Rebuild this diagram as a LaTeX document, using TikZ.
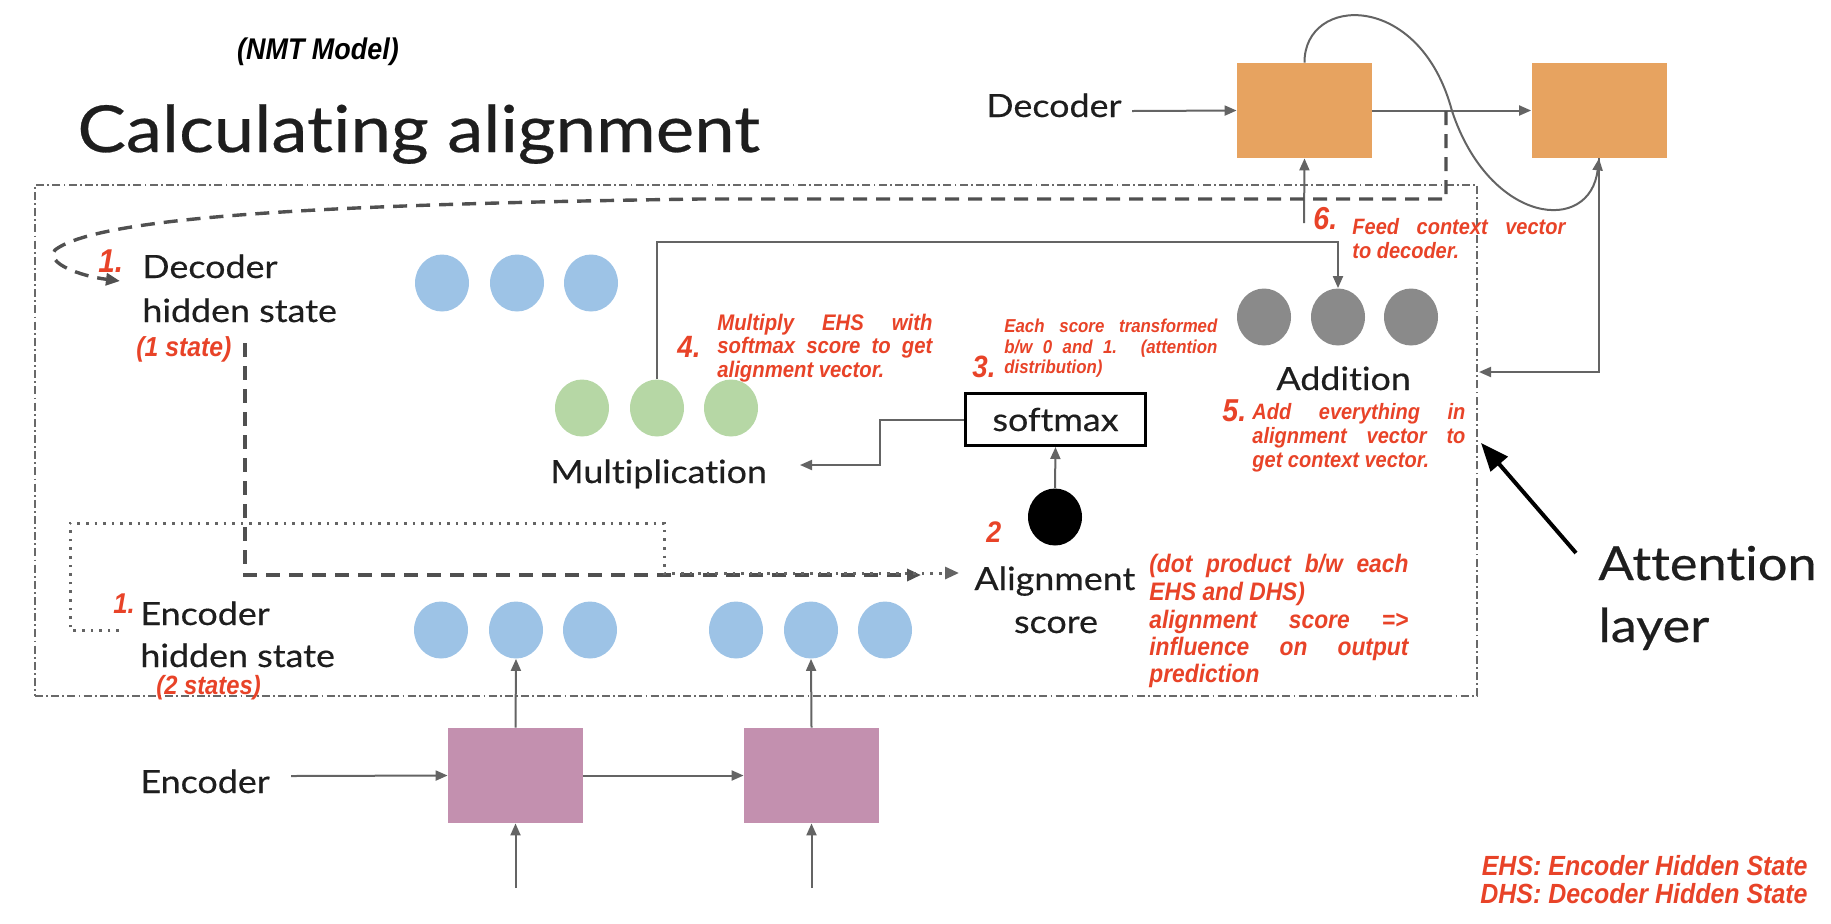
\documentclass[tikz,border=0pt]{standalone}
\usepackage{fontspec}
\setmainfont{Lato}[FakeStretch=1.12, FakeBold=0.4, Ligatures=NoCommon]
\newfontfamily\arialf{Liberation Sans}[FakeStretch=0.9]
\usetikzlibrary{arrows.meta,shapes.geometric}
\definecolor{redann}{RGB}{232,67,40}
\definecolor{txt}{RGB}{30,30,30}
\definecolor{lgray}{RGB}{100,100,100}
\definecolor{dgray}{RGB}{80,80,80}
\definecolor{boxgray}{RGB}{105,105,105}
\definecolor{dorange}{RGB}{231,163,96}
\definecolor{epink}{RGB}{195,144,175}
\definecolor{hblue}{RGB}{157,195,230}
\definecolor{mgreen}{RGB}{182,215,165}
\definecolor{agray}{RGB}{138,138,138}
\newcommand{\anf}[1]{\arialf\bfseries\itshape\fontsize{\fpeval{#1*1.1}}{\fpeval{#1*1.2}}\selectfont}
\tikzset{
  lbl/.style={anchor=base west, inner sep=0pt, text=txt, font=\fontsize{16}{19}\selectfont},
  ann/.style={anchor=base west, inner sep=0pt, text=redann},
  blob/.style={ellipse, minimum width=27pt, minimum height=28.5pt, inner sep=0pt},
  hcirc/.style={blob, fill=hblue},
  mcirc/.style={blob, fill=mgreen},
  acirc/.style={blob, fill=agray},
  scirc/.style={blob, fill=black},
  obox/.style={fill=dorange, minimum width=67.5pt, minimum height=47.5pt, inner sep=0pt},
  pbox/.style={fill=epink, minimum width=67.5pt, minimum height=47.5pt, inner sep=0pt},
  smbox/.style={draw=black, line width=1.5pt, minimum width=90pt, minimum height=26pt, inner sep=0pt, text=txt, font=\fontsize{16}{19}\selectfont},
  conn/.style={draw=lgray, line width=1pt, -{Triangle[length=6pt,width=5pt]}},
  dashline/.style={draw=dgray, line width=1.7pt, dash pattern=on 7pt off 4.5pt, -{Triangle[length=7pt,width=6pt]}},
  dotline/.style={draw=lgray, line width=1.5pt, dash pattern=on 1.3pt off 3pt, -{Triangle[length=7pt,width=6pt]}},
  attframe/.style={draw=boxgray, line width=0.9pt, dash pattern=on 4pt off 1.6pt on 0.9pt off 1.6pt},
  bigarrow/.style={draw=black, line width=2pt, -{Triangle[length=14pt,width=11pt]}}
}
\begin{document}
\begin{tikzpicture}[x=0.5pt,y=-0.5pt]
\useasboundingbox (0,0) rectangle (1831,923);
% attention frame
\node[attframe, minimum width=721pt, minimum height=255.5pt, inner sep=0pt] (att) at (756,440.5) {};

% titles
\node[anchor=base, inner sep=0pt, font=\anf{13.6}] (nmt) at (318,59) {(NMT Model)};
\node[anchor=base west, inner sep=0pt, text=txt, font=\fontsize{32.4}{36}\selectfont] (title) at (77,152) {Calculating alignment};

% decoder
\node[lbl] (dec) at (986,117) {Decoder};
\node[obox] (d1) at (1304.5,110.5) {};
\node[obox] (d2) at (1599,110.5) {};
\coordinate (decin) at (1132,111);
\coordinate (dsplit) at (1446,111);
\coordinate (ctxin) at (1304,223);
\coordinate (attR) at (1479,372);
\draw[conn] (decin) -- (d1.west);
\draw[conn] (d1.east) -- (d2.west);
\draw[conn] (d1.north) .. controls (1304,-5) and (1420,-10) .. (1452,111) .. controls (1490,225) and (1590,235) .. (d2.south);
\draw[conn] (d2.south) |- (attR);
\draw[conn] (ctxin) -- (d1.south);

% decoder hidden state
\node[ann, font=\anf{15}] (n1a) at (98,272) {1.};
\node[lbl] (dhsA) at (142,278) {Decoder};
\node[lbl] (dhsB) at (142,322) {hidden state};
\node[ann, font=\anf{12.5}] (onest) at (136,356) {(1 state)};
\node[hcirc] (dh1) at (442,283) {};
\node[hcirc] (dh2) at (517,283) {};
\node[hcirc] (dh3) at (591,283) {};
\coordinate (dtip) at (120,281);
\draw[dashline] (dsplit) -- (1446,199) -- (700,199) .. controls (350,204) and (100,215) .. (55,250) .. controls (45,263) and (80,276) .. (dtip);

% multiplication
\node[mcirc] (m1) at (582,408) {};
\node[mcirc] (m2) at (657,408) {};
\node[mcirc] (m3) at (731,408) {};
\node[lbl] (mul) at (550,483) {Multiplication};
\node[ann, font=\anf{14}] (n4) at (677,357) {4.};
\node[ann, font=\anf{10.25}] (t4a) at (717,330) {\makebox[107.5pt][s]{Multiply EHS with}};
\node[ann, font=\anf{10.25}] (t4b) at (717,353) {\makebox[107.5pt][s]{softmax score to get}};
\node[ann, font=\anf{10.25}] (t4c) at (717,377) {alignment vector.};

% softmax
\node[smbox] (sm) at (1055.5,419.5) {softmax};
\node[ann, font=\anf{14}] (n3) at (972,377) {3.};
\node[ann, font=\anf{8.5}] (t3a) at (1004,332) {\makebox[106.5pt][s]{Each score transformed}};
\node[ann, font=\anf{8.5}] (t3b) at (1004,353) {\makebox[106.5pt][s]{b/w 0 and 1. (attention}};
\node[ann, font=\anf{8.5}] (t3c) at (1004,373) {distribution)};
\coordinate (smBend) at (880,465);
\coordinate (mulIn) at (800,465);
\draw[conn] (sm.west) -| (smBend) -- (mulIn);

% score
\node[scirc] (sc) at (1055,517) {};
\draw[conn] (sc.north) -- (sm.south);
\node[ann, font=\anf{13.5}] (n2) at (986,542) {2};
\node[lbl] (alA) at (974,590) {Alignment};
\node[lbl, anchor=base] (alB) at (1056,633) {score};
\node[ann, font=\anf{11.5}] (t2a) at (1149,572) {\makebox[129.5pt][s]{(dot product b/w each}};
\node[ann, font=\anf{11.5}] (t2b) at (1149,600) {EHS and DHS)};
\node[ann, font=\anf{11.5}] (t2c) at (1149,628) {\makebox[129.5pt][s]{alignment score =>}};
\node[ann, font=\anf{11.5}] (t2d) at (1149,655) {\makebox[129.5pt][s]{influence on output}};
\node[ann, font=\anf{11.5}] (t2e) at (1149,682) {prediction};

% addition
\node[acirc] (a1) at (1264,317) {};
\node[acirc] (a2) at (1338,317) {};
\node[acirc] (a3) at (1411,317) {};
\node[lbl] (add) at (1276,390) {Addition};
\coordinate (mulTop) at (657,242);
\coordinate (addTop) at (1338,242);
\draw[conn] (m2.north) -- (mulTop) -- (addTop) -- (a2.north);
\node[ann, font=\anf{14.4}] (n5) at (1222,421) {5.};
\node[ann, font=\anf{10.1}] (t5a) at (1252,419) {\makebox[106.5pt][s]{Add everything in}};
\node[ann, font=\anf{10.1}] (t5b) at (1252,443) {\makebox[106.5pt][s]{alignment vector to}};
\node[ann, font=\anf{10.1}] (t5c) at (1252,467) {get context vector.};
\node[ann, font=\anf{14.4}] (n6) at (1313,229) {6.};
\node[ann, font=\anf{10.1}] (t6a) at (1352,234) {\makebox[106.5pt][s]{Feed context vector}};
\node[ann, font=\anf{10.1}] (t6b) at (1352,258) {to decoder.};

% encoder hidden states
\node[ann, font=\anf{13}] (n1b) at (113,613) {1.};
\node[lbl] (ehsA) at (140,625) {Encoder};
\node[lbl] (ehsB) at (140,667) {hidden state};
\node[ann, font=\anf{12}] (twost) at (156,694) {(2 states)};
\node[hcirc] (eh1) at (441,630) {};
\node[hcirc] (eh2) at (516,630) {};
\node[hcirc] (eh3) at (590,630) {};
\node[hcirc] (eh4) at (736,630) {};
\node[hcirc] (eh5) at (811,630) {};
\node[hcirc] (eh6) at (885,630) {};

% paths to alignment score
\coordinate (dhsDown) at (245,343);
\coordinate (dashEnd) at (921,575);
\draw[dashline] (dhsDown) -- (245,575) -- (dashEnd);
\coordinate (dotStart) at (119,630);
\coordinate (dotEnd) at (959,573);
\draw[dotline] (dotStart) -- (70,630) -- (70,523) -- (664,523) -- (664,573) -- (dotEnd);

% encoder
\node[lbl] (enc) at (140,793) {Encoder};
\node[pbox] (e1) at (515.5,775.5) {};
\node[pbox] (e2) at (811.5,775.5) {};
\coordinate (encin) at (291,776);
\coordinate (in1) at (515.5,888);
\coordinate (in2) at (811.5,888);
\draw[conn] (encin) -- (e1.west);
\draw[conn] (e1.east) -- (e2.west);
\draw[conn] (e1.north) -- (eh2.south);
\draw[conn] (e2.north) -- (eh5.south);
\draw[conn] (in1) -- (e1.south);
\draw[conn] (in2) -- (e2.south);

% attention layer label
\node[anchor=base west, inner sep=0pt, text=txt, font=\fontsize{23.4}{28}\selectfont] (attA) at (1598,580) {Attention};
\node[anchor=base west, inner sep=0pt, text=txt, font=\fontsize{23.4}{28}\selectfont] (attB) at (1598,642) {layer};
\coordinate (attFrom) at (1576,553);
\coordinate (attTo) at (1481,443);
\draw[bigarrow] (attFrom) -- (attTo);

% legend
\node[ann, anchor=base east, font=\anf{12.6}] (leg1) at (1808,875) {EHS: Encoder Hidden State};
\node[ann, anchor=base east, font=\anf{12.6}] (leg2) at (1808,903) {DHS: Decoder Hidden State};
\end{tikzpicture}
\end{document}
